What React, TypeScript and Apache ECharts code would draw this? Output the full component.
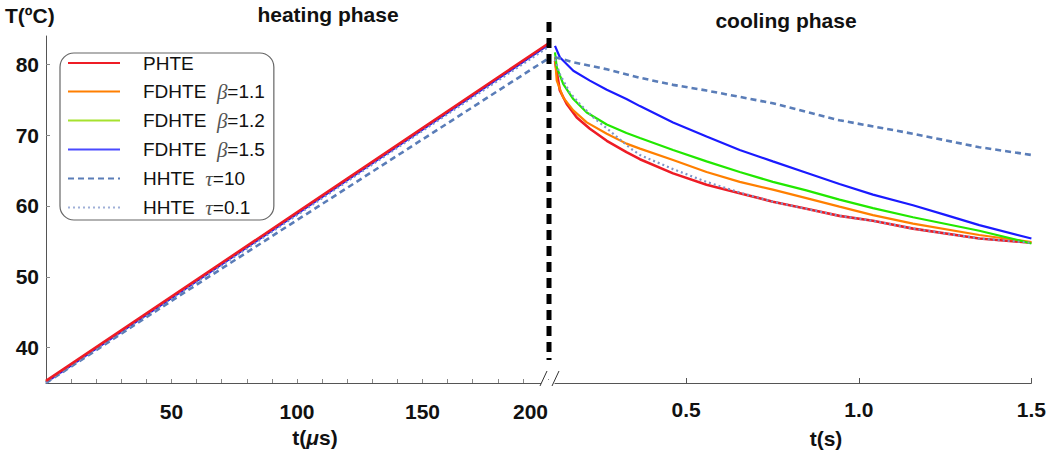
import { useEffect, useRef } from 'react';
import * as echarts from 'echarts';

// ---------- data ----------
const heatT = [0, 50, 100, 150, 200]; // μs
const heatPHTE = [35.3, 47.2, 59.1, 71.0, 82.9];
const heatB11 = [35.2, 47.1, 59.0, 70.9, 82.8];
const heatB12 = [35.2, 47.1, 59.0, 70.9, 82.8];
const heatB15 = [35.1, 47.0, 58.9, 70.8, 82.7];
const heatTau10 = [35.0, 46.6, 58.0, 69.4, 80.8];
const heatTau01 = [35.1, 46.9, 58.7, 70.6, 82.4];

// cooling phase: [t (s), T (ºC)]
const coolPHTE = [[0.12, 80.5], [0.134, 76.3], [0.154, 74.4], [0.183, 72.5], [0.221, 70.9], [0.27, 69.2], [0.327, 67.6], [0.366, 66.6], [0.462, 64.6], [0.559, 63.0], [0.655, 61.8], [0.751, 60.6], [0.848, 59.6], [0.944, 58.6], [1.041, 57.9], [1.157, 56.8], [1.349, 55.4], [1.5, 54.8]];
const coolB11 = [[0.12, 81.0], [0.125, 77.7], [0.144, 75.3], [0.173, 73.5], [0.212, 71.8], [0.27, 70.2], [0.327, 68.8], [0.366, 68.1], [0.462, 66.5], [0.559, 64.8], [0.655, 63.4], [0.751, 62.3], [0.848, 61.1], [0.944, 59.9], [1.041, 58.7], [1.157, 57.5], [1.349, 55.9], [1.5, 54.9]];
const coolB12 = [[0.12, 81.7], [0.125, 79.6], [0.144, 77.2], [0.173, 75.1], [0.212, 73.2], [0.27, 71.5], [0.327, 70.3], [0.366, 69.6], [0.462, 67.9], [0.559, 66.3], [0.655, 64.8], [0.751, 63.4], [0.848, 62.2], [0.944, 60.9], [1.041, 59.7], [1.157, 58.4], [1.349, 56.5], [1.5, 54.7]];
const coolB15 = [[0.12, 82.6], [0.134, 81.0], [0.173, 79.1], [0.221, 77.7], [0.27, 76.4], [0.327, 75.1], [0.366, 74.1], [0.462, 71.8], [0.559, 69.8], [0.655, 67.9], [0.751, 66.3], [0.848, 64.7], [0.944, 63.1], [1.041, 61.6], [1.157, 60.1], [1.253, 58.7], [1.349, 57.3], [1.5, 55.4]];
const coolTau10 = [[0.12, 81.0], [0.173, 80.3], [0.27, 79.3], [0.366, 78.1], [0.462, 77.1], [0.559, 76.3], [0.655, 75.4], [0.751, 74.5], [0.848, 73.3], [0.944, 72.1], [1.157, 70.2], [1.349, 68.3], [1.5, 67.2]];
const coolTau01 = [[0.12, 80.7], [0.134, 78.6], [0.163, 76.0], [0.192, 74.4], [0.231, 72.5], [0.279, 70.6], [0.337, 68.2], [0.366, 67.2], [0.462, 65.2], [0.559, 63.4], [0.655, 61.9], [0.751, 60.6], [0.848, 59.6], [0.944, 58.6], [1.041, 57.9], [1.157, 56.8], [1.349, 55.4], [1.5, 54.8]];

const seriesNames = ['PHTE', 'FDHTE β=1.1', 'FDHTE β=1.2', 'FDHTE β=1.5', 'HHTE τ=10', 'HHTE τ=0.1'];
const yTicks = [40, 50, 60, 70, 80];
const heatLabels = [50, 100, 150, 200];
const heatTicks = [10, 20, 30, 40, 50, 60, 70, 80, 90, 100, 110, 120, 130, 140, 150, 160, 170, 180, 190, 200];
const coolLabels = [0.5, 1.0, 1.5];

const FONT = "'Liberation Sans', Arial, sans-serif";

const styles = [
  { color: '#ee1c25', width: 2.6, type: 'solid' as any },
  { color: '#ff7f00', width: 2.2, type: 'solid' as any },
  { color: '#22e800', width: 2.2, type: 'solid' as any },
  { color: '#1a1aff', width: 2.2, type: 'solid' as any },
  { color: '#5a7db8', width: 2.6, type: [6, 4] as any },
  { color: '#7f95c8', width: 2.2, type: [2, 3] as any },
];
const legendColors = ['#ee1c25', '#ff7f00', '#a6e22e', '#4a4aff', '#5a7db8', '#9fb0d8'];

function buildOption() {
  const heatSets = [heatPHTE, heatB11, heatB12, heatB15, heatTau10, heatTau01];
  const coolSets = [coolPHTE, coolB11, coolB12, coolB15, coolTau10, coolTau01];
  const series: any[] = [];
  seriesNames.forEach((name, i) => {
    series.push({
      type: 'line', name, xAxisIndex: 0, yAxisIndex: 0,
      data: heatT.map((t, k) => [t, heatSets[i][k]]),
      showSymbol: false, symbol: 'none',
      lineStyle: styles[i], itemStyle: { color: styles[i].color },
      z: i === 0 ? 5 : 2,
    });
  });
  seriesNames.forEach((name, i) => {
    series.push({
      type: 'line', name, xAxisIndex: 1, yAxisIndex: 1,
      data: coolSets[i],
      showSymbol: false, symbol: 'none',
      lineStyle: styles[i], itemStyle: { color: styles[i].color },
      z: 2,
    });
  });

  const axisLineStyle = { color: '#555', width: 1 };
  const labelStyle = { fontFamily: FONT, fontWeight: 'bold', fontSize: 21, color: '#111' };

  return {
    animation: false,
    backgroundColor: '#fff',
    grid: [
      { left: 46, top: 36, width: 502, height: 347 },
      { left: 555, top: 36, width: 477, height: 347 },
    ],
    xAxis: [
      {
        type: 'value', gridIndex: 0, min: 0, max: 200,
        axisLine: { show: true, lineStyle: axisLineStyle },
        splitLine: { show: false },
        axisTick: { show: true, inside: true, length: 4, customValues: heatTicks, lineStyle: { color: '#888' } },
        axisLabel: { ...labelStyle, customValues: heatLabels, margin: 18, alignMaxLabel: 'right' },
      },
      {
        type: 'value', gridIndex: 1, min: 0.12, max: 1.5,
        axisLine: { show: true, lineStyle: axisLineStyle },
        splitLine: { show: false },
        axisTick: { show: true, inside: true, length: 5, customValues: coolLabels, lineStyle: { color: '#555' } },
        axisLabel: { ...labelStyle, customValues: coolLabels, margin: 16, formatter: (v: number) => v.toFixed(1) },
      },
    ],
    yAxis: [
      {
        type: 'value', gridIndex: 0, min: 35, max: 84,
        axisLine: { show: true, lineStyle: axisLineStyle },
        splitLine: { show: false },
        axisTick: { show: true, inside: true, length: 4, customValues: yTicks, lineStyle: { color: '#888' } },
        axisLabel: { ...labelStyle, customValues: yTicks, margin: 7 },
      },
      {
        type: 'value', gridIndex: 1, min: 35, max: 84, show: false,
        splitLine: { show: false },
      },
    ],
    legend: {
      left: 60, top: 53, orient: 'vertical',
      data: seriesNames.map((n, i) => ({
        name: n,
        lineStyle: { color: legendColors[i], opacity: 1 },
        itemStyle: { color: legendColors[i], opacity: 0, borderWidth: 0 },
      })),
      itemWidth: 52, itemHeight: 14, itemGap: 8,
      padding: [0, 9, 2, 7],
      borderColor: '#666', borderWidth: 1.2, borderRadius: 14,
      selectedMode: false,
      textStyle: {
        fontFamily: FONT, fontSize: 19, color: '#111', lineHeight: 20,
        rich: {
          sp: { width: 18 },
          g: { fontFamily: "'Liberation Serif', 'DejaVu Serif', serif", fontStyle: 'italic', fontSize: 21, color: '#555', lineHeight: 20 },
        },
      },
      formatter: (name: string) => {
        const m = name.match(/^(\S+) ([βτ])(=.*)$/);
        if (m) return `{sp|}${m[1]}  {g|${m[2]}}${m[3]}`;
        return `{sp|}${name}`;
      },
    },
    graphic: [
      { type: 'text', left: 5, top: 5, z: 100, style: { text: 'T(ºC)', font: `bold 21px ${FONT}`, fill: '#111' } },
      { type: 'text', x: 328, y: 14, z: 100, style: { text: 'heating phase', font: `bold 21px ${FONT}`, fill: '#111', align: 'center', verticalAlign: 'middle' } },
      { type: 'text', x: 786, y: 20, z: 100, style: { text: 'cooling phase', font: `bold 21px ${FONT}`, fill: '#111', align: 'center', verticalAlign: 'middle' } },
      {
        type: 'text', x: 315, y: 437, z: 100,
        style: {
          text: '{b|t(}{m|μ}{b|s)}', align: 'center', verticalAlign: 'middle',
          rich: {
            b: { font: `bold 21px ${FONT}`, fill: '#111' },
            m: { font: `italic bold 21px ${FONT}`, fill: '#111' },
          },
        },
      },
      { type: 'text', x: 826, y: 438, z: 100, style: { text: 't(s)', font: `bold 21px ${FONT}`, fill: '#111', align: 'center', verticalAlign: 'middle' } },
      // vertical separator
      { type: 'line', z: 100, shape: { x1: 549, y1: 22, x2: 549, y2: 360 }, style: { stroke: '#000', lineWidth: 5, lineDash: [10, 6] } },
      // axis break
      { type: 'rect', z: 100, shape: { x: 541, y: 380, width: 13, height: 6 }, style: { fill: '#fff' } },
      { type: 'line', z: 101, shape: { x1: 540, y1: 386, x2: 547, y2: 371 }, style: { stroke: '#333', lineWidth: 1 } },
      { type: 'line', z: 101, shape: { x1: 552, y1: 386, x2: 559, y2: 371 }, style: { stroke: '#333', lineWidth: 1 } },
    ],
    series,
  };
}

export default function App() {
  const ref = useRef<HTMLDivElement>(null);
  useEffect(() => {
    if (!ref.current) return;
    const chart = echarts.init(ref.current, null, { renderer: 'svg' });
    chart.setOption(buildOption() as any);
    return () => chart.dispose();
  }, []);
  return <div ref={ref} style={{ position: 'absolute', left: 0, top: 0, width: 1049, height: 457 }} />;
}
